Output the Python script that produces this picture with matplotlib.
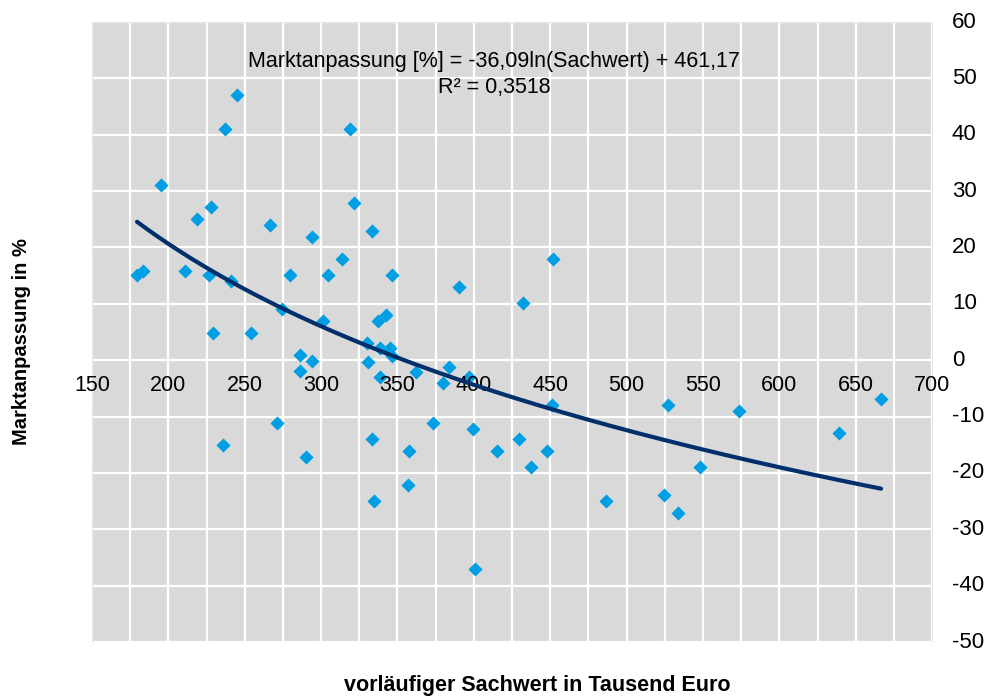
import numpy as np
import matplotlib
matplotlib.use("Agg")
import matplotlib.pyplot as plt
from matplotlib.ticker import MultipleLocator

plt.rcParams['font.family'] = ['Liberation Sans', 'DejaVu Sans']

# vorlaeufiger Sachwert (Tausend Euro) and Marktanpassung (%)
sachwert = [179.5, 183.4, 195.2, 210.9, 218.8, 227.9, 226.6, 241.0, 237.1, 244.9,
            229.2, 254.1, 235.8, 266.6, 271.1, 274.4, 279.7, 286.2, 294.1, 286.2,
            290.1, 294.1, 301.3, 304.5, 313.7, 318.9, 321.6, 333.3, 330.1, 330.7,
            333.3, 334.7, 337.3, 342.5, 338.6, 345.1, 346.4, 338.6, 346.4, 356.9,
            357.6, 362.2, 373.3, 379.8, 383.8, 390.3, 396.9, 399.5, 400.8, 415.2,
            429.6, 432.2, 437.5, 447.9, 451.2, 451.9, 486.6, 524.5, 527.2, 533.7,
            548.1, 573.7, 639.1, 666.6]
anpassung = [15.1, 15.8, 31.1, 15.8, 25.0, 27.1, 15.1, 14.0, 41.0, 47.0,
             4.8, 4.8, -15.1, 24.0, -11.1, 9.1, 15.1, 0.9, -0.1, -1.9,
             -17.2, 21.9, 6.9, 15.1, 17.9, 41.0, 27.9, 22.9, 3.0, -0.3,
             -14.0, -25.0, 6.9, 8.0, 2.2, 2.2, 0.7, -3.0, 15.1, -22.1,
             -16.1, -2.1, -11.1, -4.1, -1.2, 13.0, -3.0, -12.2, -37.1, -16.1,
             -14.0, 10.1, -19.0, -16.1, -8.0, 18.0, -25.0, -23.9, -8.0, -27.1,
             -19.0, -9.0, -12.9, -6.9]

# logarithmic trend as given in the chart (Sachwert in Euro)
coef_a = -36.09
coef_b = 461.17
r2 = 0.3518

x_ticks = [150, 200, 250, 300, 350, 400, 450, 500, 550, 600, 650, 700]
y_ticks = [60, 50, 40, 30, 20, 10, 0, -10, -20, -30, -40, -50]

fig = plt.figure(figsize=(9.86, 6.97), dpi=100)
ax = fig.add_axes([0.0933, 0.0789, 0.852, 0.8895])
ax.set_facecolor('#d9d9d9')

ax.set_xlim(150, 700)
ax.set_ylim(-50, 60)
ax.xaxis.set_major_locator(MultipleLocator(50))
ax.xaxis.set_minor_locator(MultipleLocator(25))
ax.yaxis.set_major_locator(MultipleLocator(10))
ax.grid(True, which='both', color='white', lw=1.6)
ax.set_axisbelow(True)

for s in ['top', 'left', 'right']:
    ax.spines[s].set_color('#e6e6e6')
ax.spines['bottom'].set_visible(False)

ax.scatter(sachwert, anpassung, marker='D', s=52, color='#009fe3',
           linewidths=0, zorder=3)

xs = np.linspace(min(sachwert), max(sachwert), 300)
ax.plot(xs, coef_a * np.log(xs * 1000) + coef_b, color='#002f6c', lw=3.0,
        zorder=4, solid_capstyle='round')

# x tick labels sit just below the zero line
ax.set_xticks(x_ticks)
ax.set_xticklabels([])
ax.tick_params(which='both', length=0)
for v in x_ticks:
    ax.text(v, -2.7, str(v), ha='center', va='top', fontsize=15.5,
            color='black', clip_on=False)

# y tick labels on the right
ax.set_yticks(y_ticks)
ax.set_yticklabels([])
for v in y_ticks:
    ax.text(1.0236, v, str(v), transform=ax.get_yaxis_transform(),
            ha='left', va='center', fontsize=16, clip_on=False)

ax.text(0.4785, 0.953, "Marktanpassung [%] = -36,09ln(Sachwert) + 461,17\nR² = 0,3518",
        transform=ax.transAxes, ha='center', va='top', fontsize=15.5,
        linespacing=1.3, multialignment='center')

fig.text(0.545, 0.0172, "vorläufiger Sachwert in Tausend Euro", ha='center',
         va='center', fontsize=15.5, fontweight='bold')
fig.text(0.022, 0.51, "Marktanpassung in %", ha='center', va='center',
         rotation=90, fontsize=14.5, fontweight='bold')

fig.savefig("out.png", dpi=100)
